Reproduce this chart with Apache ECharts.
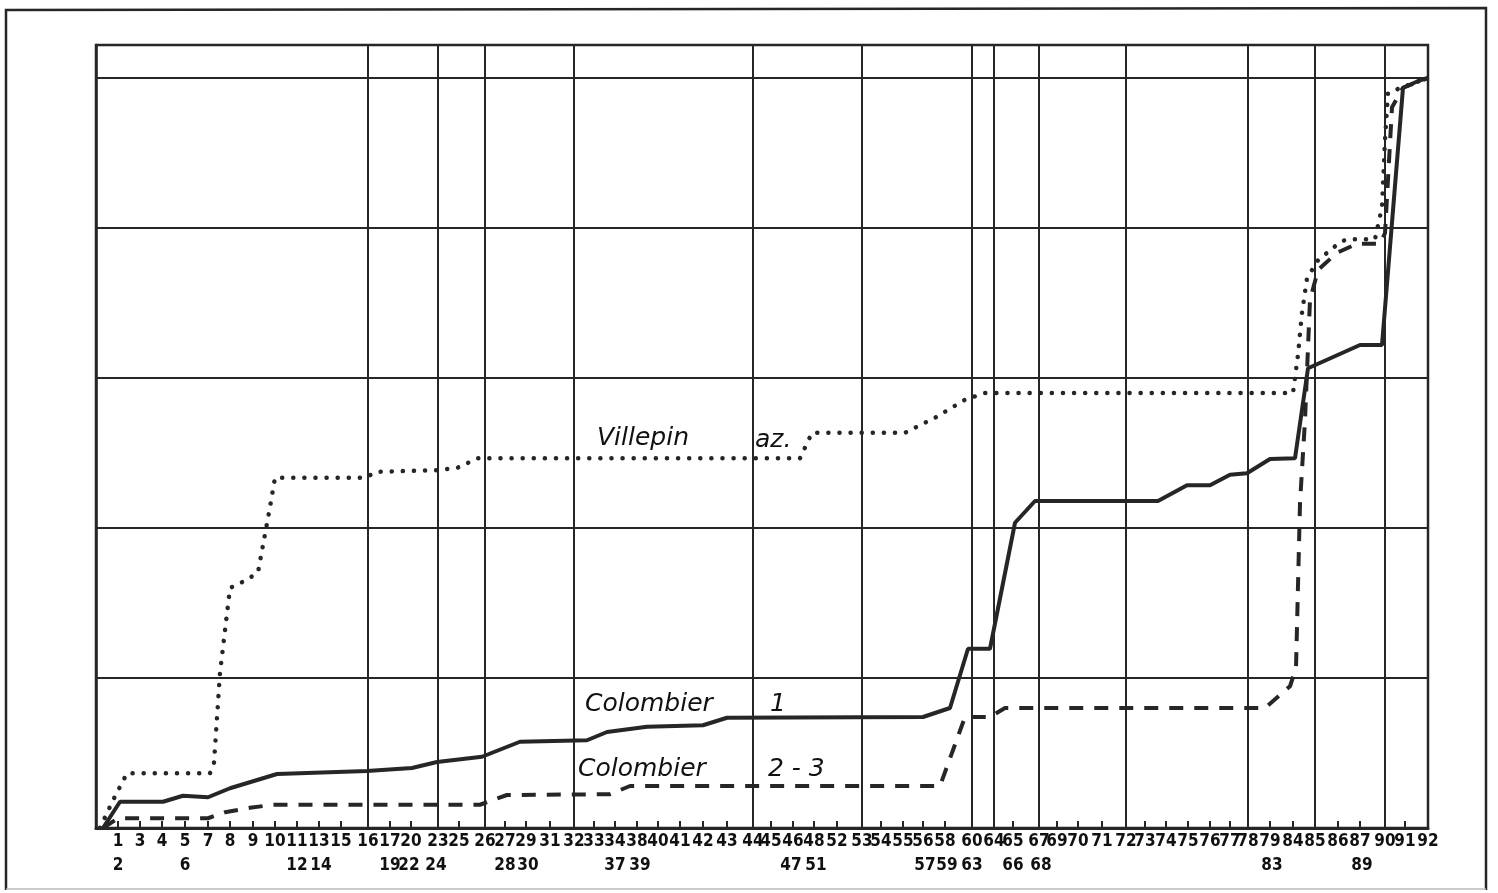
<!DOCTYPE html>
<html>
<head>
<meta charset="utf-8">
<script src="https://cdn.jsdelivr.net/npm/echarts@6/dist/echarts.min.js"></script>
<style>
html, body { margin: 0; padding: 0; background: #fff; }
#chart { width: 1498px; height: 893px; }
</style>
</head>
<body>
<div id="chart"></div>
<script>
// station numbers, upper row of the axis, with their distance along the profile
const stationsTop = [1, 3, 4, 5, 7, 8, 9, 10, 11, 13, 15, 16, 17, 20, 23, 25, 26, 27, 29, 31, 32, 33, 34, 38, 40, 41,
  42, 43, 44, 45, 46, 48, 52, 53, 54, 55, 56, 58, 60, 64, 65, 67, 69, 70, 71, 72, 73, 74, 75, 76, 77, 78, 79, 84, 85,
  86, 87, 90, 91, 92];
const stationsTopDist = [22, 44, 66, 89, 112, 134, 157, 179, 201, 223, 245, 272, 294, 315, 342, 363, 389, 409, 430, 454,
  478, 498, 519, 541, 562, 584, 607, 631, 657, 675, 697, 718, 741, 766, 785, 807, 827, 849, 876, 898, 917, 943, 961, 982,
  1006, 1030, 1049, 1070, 1092, 1114, 1134, 1152, 1174, 1197, 1219, 1242, 1264, 1289, 1309, 1332];
// lower row of the axis
const stationsLow = [2, 6, 12, 14, 19, 22, 24, 28, 30, 37, 39, 47, 51, 57, 59, 63, 66, 68, 83, 89];
const stationsLowDist = [22, 89, 201, 225, 294, 313, 340, 409, 432, 519, 544, 695, 720, 829, 851, 876, 917, 945, 1176, 1266];
// stations that carry a full vertical line
const gridStations = [16, 23, 26, 32, 44, 53, 60, 64, 67, 72, 78, 85, 90];

// cumulative curves: [distance, value]
const villepin = [[4, 0], [17, 3.7], [31, 7.3], [114, 7.3], [118, 8.7], [124, 20.7], [134, 32], [151, 33.1], [162, 34.1],
  [174, 42.8], [179, 46.7], [269, 46.7], [281, 47.5], [341, 47.7], [361, 48], [382, 49.3], [704, 49.3], [716, 52.7],
  [809, 52.7], [839, 54.7], [869, 57.1], [889, 58], [1197, 58], [1202, 63.1], [1206, 68.7], [1211, 73.3], [1222, 75.7],
  [1244, 78.1], [1251, 78.5], [1279, 78.5], [1286, 82.8], [1289, 91.7], [1292, 98], [1307, 98.8], [1332, 100]];
const colombier1 = [[7, 0], [24, 3.5], [67, 3.5], [87, 4.3], [112, 4.1], [134, 5.3], [181, 7.2], [271, 7.6], [316, 8],
  [341, 8.8], [386, 9.5], [424, 11.5], [491, 11.7], [511, 12.8], [551, 13.5], [607, 13.7], [631, 14.7], [827, 14.8],
  [854, 16], [872, 23.9], [894, 23.9], [919, 40.7], [939, 43.6], [1062, 43.6], [1091, 45.7], [1114, 45.7], [1134, 47.1],
  [1151, 47.3], [1174, 49.2], [1199, 49.3], [1212, 61.3], [1264, 64.4], [1286, 64.4], [1307, 98.7], [1324, 99.7], [1332, 100]];
const colombier23 = [[7, 0], [22, 1.3], [112, 1.3], [129, 2.1], [154, 2.7], [177, 3.1], [384, 3.1], [411, 4.4], [514, 4.5],
  [534, 5.6], [844, 5.6], [869, 14.8], [894, 14.8], [909, 16], [1169, 16], [1194, 18.9], [1200, 21.3], [1204, 43.3],
  [1209, 54.4], [1214, 70.4], [1222, 74.4], [1241, 76.7], [1261, 77.9], [1284, 77.9], [1289, 79.3], [1296, 96.1],
  [1307, 98.7], [1332, 100]];

const ink = '#262626';
const hand = 'italic 25px "DejaVu Sans", sans-serif';

const topLabel = {};
stationsTop.forEach((n, i) => { topLabel[stationsTopDist[i]] = n; });
const lowLabel = {};
stationsLow.forEach((n, i) => { lowLabel[stationsLowDist[i]] = n; });
const gridDist = gridStations.map(n => stationsTopDist[stationsTop.indexOf(n)]);

const labelStyle = {
  color: '#111',
  fontFamily: '"Liberation Sans Narrow", "DejaVu Sans Condensed", sans-serif',
  fontSize: 17,
  fontWeight: 'bold'
};

const chart = echarts.init(document.getElementById('chart'));
chart.setOption({
  animation: false,
  backgroundColor: '#fff',
  grid: { left: 96, right: 70, top: 45, bottom: 65, show: true, borderColor: ink, borderWidth: 2.5 },
  xAxis: [
    {
      type: 'value', min: 0, max: 1332, position: 'bottom',
      axisLine: { show: true, onZero: false, lineStyle: { color: ink, width: 3 } },
      axisTick: { show: true, inside: true, length: 7, customValues: stationsTopDist, lineStyle: { color: ink, width: 2 } },
      axisLabel: Object.assign({ customValues: stationsTopDist, margin: 5, formatter: v => topLabel[v] }, labelStyle),
      splitLine: { show: false }
    },
    {
      type: 'value', min: 0, max: 1332, position: 'bottom', offset: 24,
      axisLine: { show: false },
      axisTick: { show: false },
      axisLabel: Object.assign({ customValues: stationsLowDist, margin: 5, formatter: v => lowLabel[v] }, labelStyle),
      splitLine: { show: false }
    }
  ],
  yAxis: {
    type: 'value', min: 0, max: 104.4, interval: 20,
    axisLine: { show: true, lineStyle: { color: ink, width: 2.5 } },
    axisTick: { show: false },
    axisLabel: { show: false },
    splitLine: { show: true, lineStyle: { color: ink, width: 2 } }
  },
  series: [
    {
      name: 'Villepin az.', type: 'line', data: villepin, showSymbol: false,
      lineStyle: { color: ink, width: 4.5, type: [0.1, 11], cap: 'round' },
      markLine: {
        silent: true, symbol: 'none', label: { show: false },
        lineStyle: { color: ink, width: 2, type: 'solid' },
        data: gridDist.map(d => ({ xAxis: d }))
      }
    },
    {
      name: 'Colombier 1', type: 'line', data: colombier1, showSymbol: false,
      lineStyle: { color: ink, width: 4, type: 'solid' }
    },
    {
      name: 'Colombier 2-3', type: 'line', data: colombier23, showSymbol: false,
      lineStyle: { color: ink, width: 4, type: [14, 11] }
    }
  ],
  graphic: [
    { type: 'polyline', shape: { points: [[6, 890], [6, 10], [1486, 8], [1486, 890]] }, style: { stroke: ink, lineWidth: 2.5, fill: null } },
    { type: 'line', shape: { x1: 6, y1: 889, x2: 1486, y2: 889 }, style: { stroke: '#bbb', lineWidth: 1.5 } },
    { type: 'text', left: 597, top: 426, style: { text: 'Villepin', font: hand, fill: '#111' } },
    { type: 'text', left: 755, top: 428, style: { text: 'az.', font: hand, fill: '#111' } },
    { type: 'text', left: 585, top: 692, style: { text: 'Colombier', font: hand, fill: '#111' } },
    { type: 'text', left: 770, top: 692, style: { text: '1', font: hand, fill: '#111' } },
    { type: 'text', left: 578, top: 757, style: { text: 'Colombier', font: hand, fill: '#111' } },
    { type: 'text', left: 768, top: 757, style: { text: '2 - 3', font: hand, fill: '#111' } }
  ]
});
</script>
</body>
</html>
